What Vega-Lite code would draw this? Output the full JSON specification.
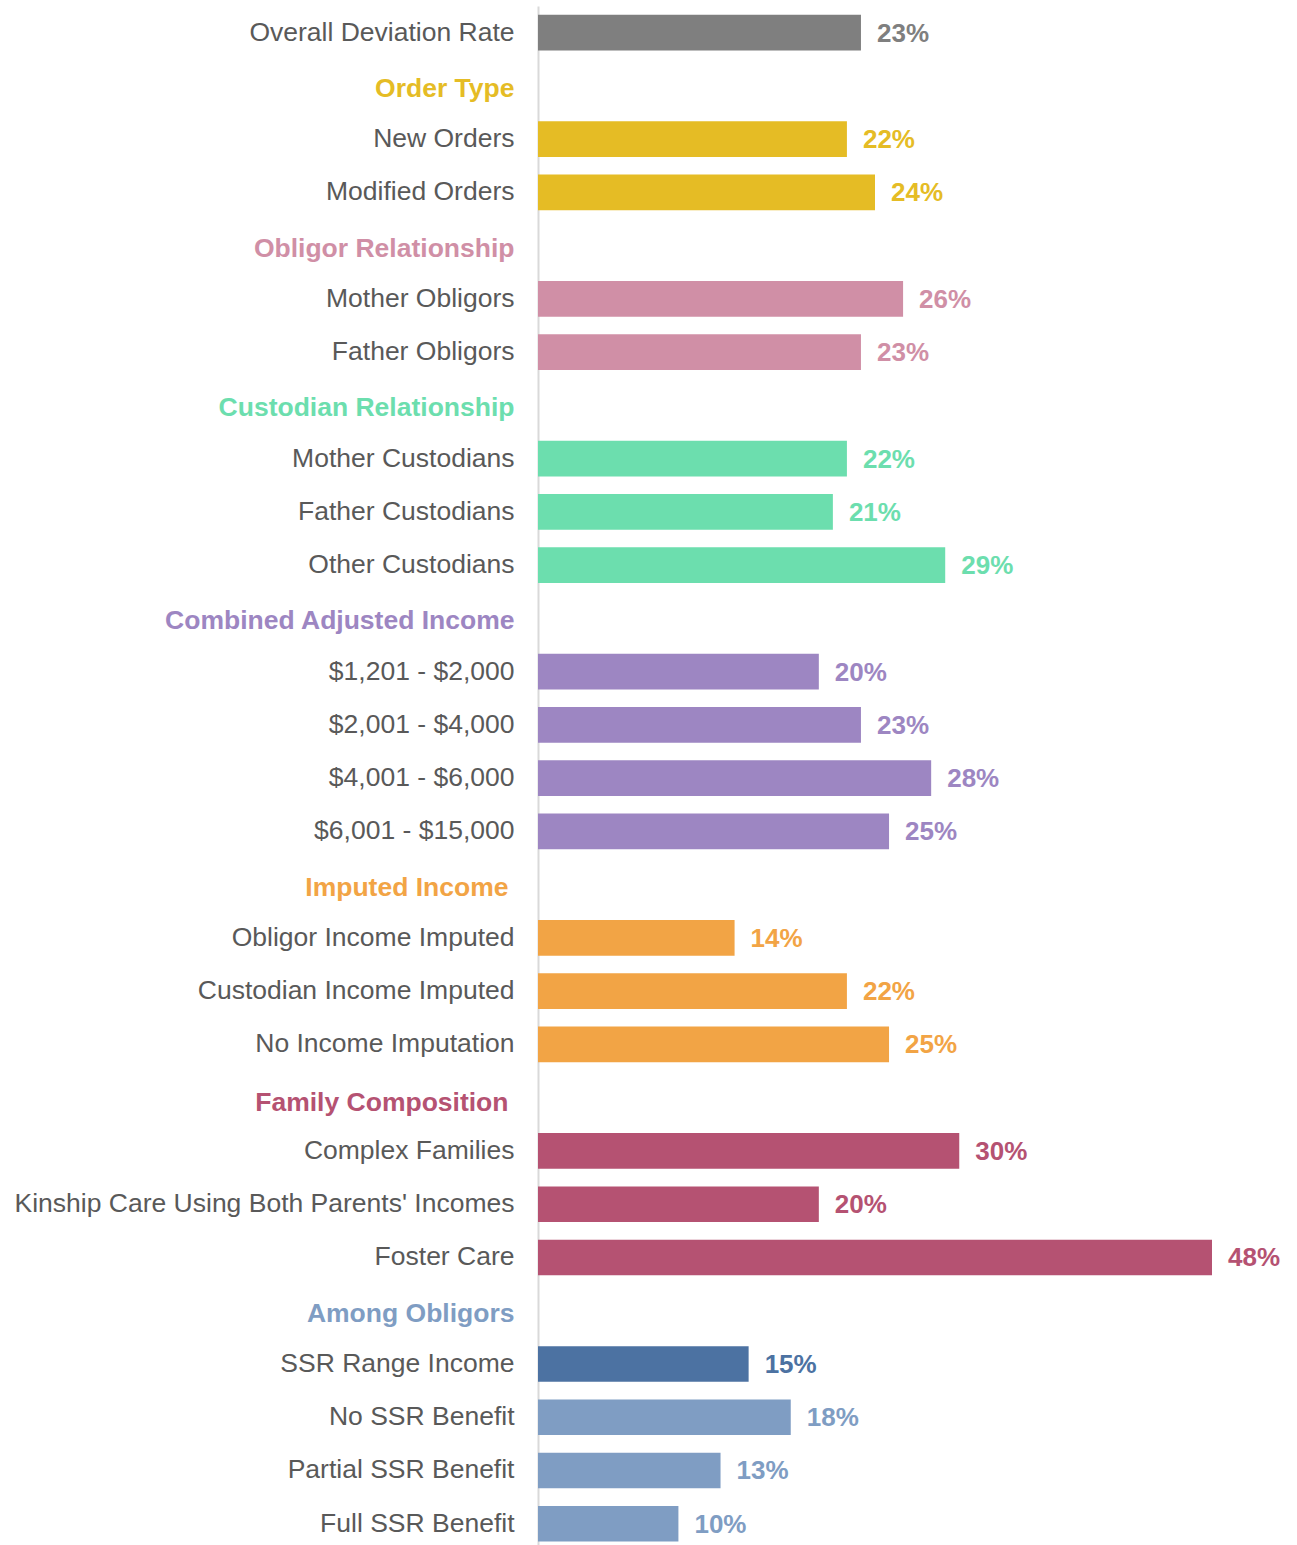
{
  "$schema": "https://vega.github.io/schema/vega-lite/v6.json",
  "autosize": {"type": "none"},
  "padding": {"left": 538, "top": 6, "right": 85, "bottom": 0},
  "width": 674,
  "height": 1539,
  "background": "white",
  "config": {
    "view": {"stroke": null},
    "font": "Liberation Sans"
  },
  "data": {
    "values": [
      {"label": "Overall Deviation Rate", "group": "Overall", "rate": 0.23},
      {"label": "Order Type", "group": "Order Type", "rate": null},
      {"label": "New Orders", "group": "Order Type", "rate": 0.22},
      {"label": "Modified Orders", "group": "Order Type", "rate": 0.24},
      {"label": "Obligor Relationship", "group": "Obligor Relationship", "rate": null},
      {"label": "Mother Obligors", "group": "Obligor Relationship", "rate": 0.26},
      {"label": "Father Obligors", "group": "Obligor Relationship", "rate": 0.23},
      {"label": "Custodian Relationship", "group": "Custodian Relationship", "rate": null},
      {"label": "Mother Custodians", "group": "Custodian Relationship", "rate": 0.22},
      {"label": "Father Custodians", "group": "Custodian Relationship", "rate": 0.21},
      {"label": "Other Custodians", "group": "Custodian Relationship", "rate": 0.29},
      {"label": "Combined Adjusted Income", "group": "Combined Adjusted Income", "rate": null},
      {"label": "$1,201 - $2,000", "group": "Combined Adjusted Income", "rate": 0.20},
      {"label": "$2,001 - $4,000", "group": "Combined Adjusted Income", "rate": 0.23},
      {"label": "$4,001 - $6,000", "group": "Combined Adjusted Income", "rate": 0.28},
      {"label": "$6,001 - $15,000", "group": "Combined Adjusted Income", "rate": 0.25},
      {"label": "Imputed Income", "group": "Imputed Income", "rate": null},
      {"label": "Obligor Income Imputed", "group": "Imputed Income", "rate": 0.14},
      {"label": "Custodian Income Imputed", "group": "Imputed Income", "rate": 0.22},
      {"label": "No Income Imputation", "group": "Imputed Income", "rate": 0.25},
      {"label": "Family Composition", "group": "Family Composition", "rate": null},
      {"label": "Complex Families", "group": "Family Composition", "rate": 0.30},
      {"label": "Kinship Care Using Both Parents' Incomes", "group": "Family Composition", "rate": 0.20},
      {"label": "Foster Care", "group": "Family Composition", "rate": 0.48},
      {"label": "Among Obligors", "group": "Among Obligors", "rate": null},
      {"label": "SSR Range Income", "group": "SSR Range Income", "rate": 0.15},
      {"label": "No SSR Benefit", "group": "Among Obligors", "rate": 0.18},
      {"label": "Partial SSR Benefit", "group": "Among Obligors", "rate": 0.13},
      {"label": "Full SSR Benefit", "group": "Among Obligors", "rate": 0.10}
    ]
  },
  "encoding": {
    "y": {
      "field": "label",
      "type": "nominal",
      "sort": null,
      "scale": {
        "domain": ["Overall Deviation Rate", "Order Type", "New Orders", "Modified Orders", "Obligor Relationship", "Mother Obligors", "Father Obligors", "Custodian Relationship", "Mother Custodians", "Father Custodians", "Other Custodians", "Combined Adjusted Income", "$1,201 - $2,000", "$2,001 - $4,000", "$4,001 - $6,000", "$6,001 - $15,000", "Imputed Income", "Obligor Income Imputed", "Custodian Income Imputed", "No Income Imputation", "Family Composition", "Complex Families", "Kinship Care Using Both Parents' Incomes", "Foster Care", "Among Obligors", "SSR Range Income", "No SSR Benefit", "Partial SSR Benefit", "Full SSR Benefit"],
        "paddingInner": 0.33,
        "paddingOuter": 0.115,
        "align": 0.72
      },
      "axis": {
        "title": null,
        "ticks": false,
        "tickSize": 0,
        "labelFont": "Liberation Sans",
        "labelFontSize": 26.5,
        "labelLimit": 0,
        "domainColor": "#d9d9d9",
        "domainWidth": 2,
        "grid": false,
        "labelPadding": {
          "condition": {"test": "datum.label == 'Imputed Income' || datum.label == 'Family Composition'", "value": 30},
          "value": 24
        },
        "labelOffset": {
          "condition": [
            {"test": "datum.label == 'Family Composition'", "value": 5},
            {"test": "indexof(['Order Type','Obligor Relationship','Custodian Relationship','Combined Adjusted Income','Imputed Income','Among Obligors'], datum.label) >= 0", "value": 3}
          ],
          "value": 0
        },
        "labelColor": [
          {"test": "datum.label == 'Order Type'", "value": "#E5BC25"},
          {"test": "datum.label == 'Obligor Relationship'", "value": "#D08FA6"},
          {"test": "datum.label == 'Custodian Relationship'", "value": "#6CDEAE"},
          {"test": "datum.label == 'Combined Adjusted Income'", "value": "#9D86C2"},
          {"test": "datum.label == 'Imputed Income'", "value": "#F2A445"},
          {"test": "datum.label == 'Family Composition'", "value": "#B55272"},
          {"test": "datum.label == 'Among Obligors'", "value": "#7F9DC3"},
          {"value": "#595959"}
        ],
        "labelFontWeight": {
          "condition": {
            "test": "indexof(['Order Type','Obligor Relationship','Custodian Relationship','Combined Adjusted Income','Imputed Income','Family Composition','Among Obligors'], datum.label) >= 0",
            "value": "bold"
          },
          "value": "normal"
        }
      }
    }
  },
  "layer": [
    {
      "mark": {"type": "bar"},
      "encoding": {
        "x": {"field": "rate", "type": "quantitative", "scale": {"domain": [0, 0.48], "nice": false, "zero": true}, "axis": null},
        "color": {
          "field": "group",
          "type": "nominal",
          "legend": null,
          "scale": {
            "domain": ["Overall", "Order Type", "Obligor Relationship", "Custodian Relationship", "Combined Adjusted Income", "Imputed Income", "Family Composition", "SSR Range Income", "Among Obligors"],
            "range": ["#7F7F7F", "#E5BC25", "#D08FA6", "#6CDEAE", "#9D86C2", "#F2A445", "#B55272", "#4C72A2", "#7F9DC3"]
          }
        }
      }
    },
    {
      "mark": {"type": "text", "align": "left", "baseline": "middle", "dx": 16, "dy": 1, "fontSize": 26, "fontWeight": "bold", "font": "Liberation Sans"},
      "encoding": {
        "x": {"field": "rate", "type": "quantitative"},
        "text": {"field": "rate", "type": "quantitative", "format": ".0%"},
        "color": {"field": "group", "type": "nominal", "legend": null}
      }
    }
  ]
}
